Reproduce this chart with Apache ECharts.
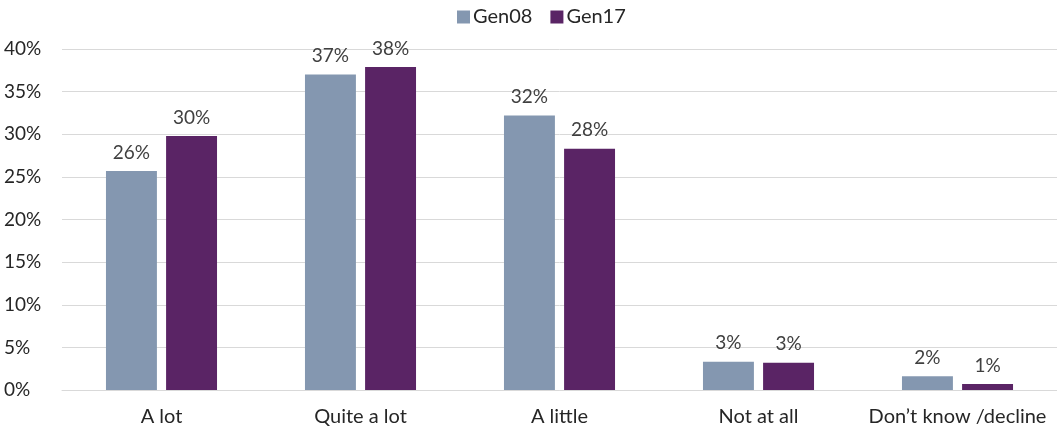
<!DOCTYPE html>
<html>
<head>
<meta charset="utf-8">
<script src="https://cdn.jsdelivr.net/npm/echarts@6/dist/echarts.min.js"></script>
<style>
  html, body { margin: 0; padding: 0; background: #fff; }
  #chart { width: 1057px; height: 430px; }
</style>
</head>
<body>
<div id="chart"></div>
<script>
// Response categories and share of respondents (%) per survey wave
const categories = ['A lot', 'Quite a lot', 'A little', 'Not at all', 'Don\u2019t know /decline'];
const gen08 = [25.7, 37.0, 32.2, 3.3, 1.6];
const gen17 = [29.8, 37.9, 28.3, 3.2, 0.7];
const yTicks = { min: 0, max: 40, step: 5 };

const font = 'Lato, "Open Sans", sans-serif';
const axisColor = '#262626';

const chart = echarts.init(document.getElementById('chart'));
const label = {
  show: true,
  position: 'top',
  distance: 9,
  color: '#404040',
  fontFamily: font,
  fontSize: 19,
  formatter: p => Math.round(p.value) + '%'
};
chart.setOption({
  animation: false,
  legend: {
    top: 2,
    left: 452,
    itemWidth: 13,
    itemHeight: 13,
    itemGap: 18,
    icon: 'rect',
    textStyle: { color: axisColor, fontFamily: font, fontSize: 20, padding: [0, 0, 0, -2] },
    data: ['Gen08', 'Gen17']
  },
  grid: { left: 62, right: 0, top: 49, bottom: 40, containLabel: false },
  xAxis: {
    type: 'category',
    data: categories,
    axisLine: { show: true, lineStyle: { color: '#d9d9d9', width: 1 } },
    axisTick: { show: false },
    axisLabel: { interval: 0, color: axisColor, fontFamily: font, fontSize: 20, margin: 17 }
  },
  yAxis: {
    type: 'value',
    min: yTicks.min,
    max: yTicks.max,
    interval: yTicks.step,
    axisLine: { show: false },
    axisTick: { show: false },
    splitLine: { lineStyle: { color: '#d9d9d9', width: 1 } },
    axisLabel: {
      color: axisColor, fontFamily: font, fontSize: 19,
      align: 'left', margin: 58,
      formatter: v => v + '%'
    }
  },
  series: [
    {
      name: 'Gen08', type: 'bar', data: gen08,
      barWidth: '25.6%', barGap: '18%',
      itemStyle: { color: '#8497b0' },
      label
    },
    {
      name: 'Gen17', type: 'bar', data: gen17,
      barWidth: '25.6%',
      itemStyle: { color: '#5a2465' },
      label
    }
  ]
});
</script>
</body>
</html>
